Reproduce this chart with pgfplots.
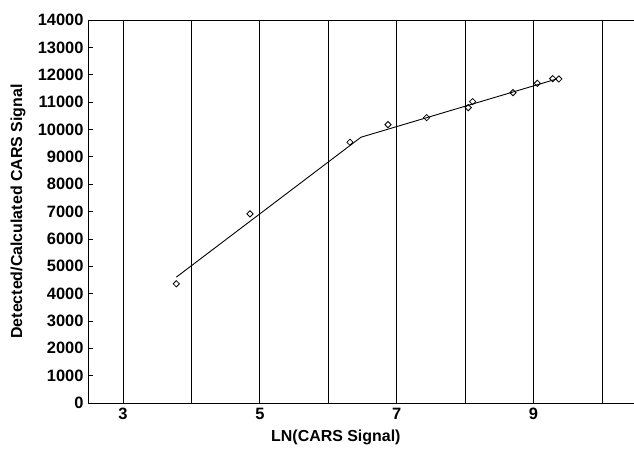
\documentclass[border=0pt]{standalone}
\usepackage{fontspec}
\setmainfont{Liberation Sans}
\usepackage{pgfplots}
\pgfplotsset{compat=1.18}
\begin{document}
\begin{tikzpicture}
\begin{axis}[
  name=ax,
  scale only axis,
  width=546bp, height=383bp,
  xmin=2.489, xmax=10.468,
  ymin=0, ymax=14000,
  axis x line*=box,
  axis y line*=left,
  axis line style={-, line width=0.9bp, black},
  xtick={3,4,5,6,7,8,9,10},
  xticklabels={3,,5,,7,,9,},
  xtick style={draw=none},
  ytick={0,1000,...,14000},
  ytick pos=left,
  tick align=inside,
  major tick length=5bp,
  ytick style={line width=0.7bp, black},
  xmajorgrids,
  major grid style={black, line width=0.8bp, solid},
  /pgf/number format/assume math mode=true,
  scaled y ticks=false,
  yticklabel style={/pgf/number format/1000 sep={}, xshift=-1bp},
  tick label style={font=\fontsize{16.5}{19}\selectfont\bfseries},
  xticklabel style={yshift=-2bp},
  label style={font=\fontsize{16}{19}\selectfont\bfseries},
  xlabel={LN(CARS Signal)},
  ylabel={Detected/Calculated CARS Signal},
  xlabel style={at={(axis description cs:0.454,0)}, anchor=center, yshift=-34bp},
  ylabel style={at={(axis description cs:-0.128,0.5)}, anchor=center},
]
\addplot[black, line width=0.9bp] coordinates {
  (3.78,4601) (6.478,9715) (9.34,11845)
};
\addplot[only marks, mark=square, mark size=2.2bp, mark options={black, rotate=45, line width=0.8bp, fill=white}] coordinates {
  (3.78,4357) (4.856,6914) (6.317,9532) (6.873,10175) (7.438,10431)
  (8.046,10797) (8.11,11016) (8.70,11345) (9.055,11687) (9.28,11856) (9.37,11845)
};
\end{axis}
\pgfresetboundingbox
\path[use as bounding box] ([shift={(-88bp,-49bp)}]ax.south west) rectangle ([shift={(0bp,20bp)}]ax.north east);
\end{tikzpicture}
\end{document}
